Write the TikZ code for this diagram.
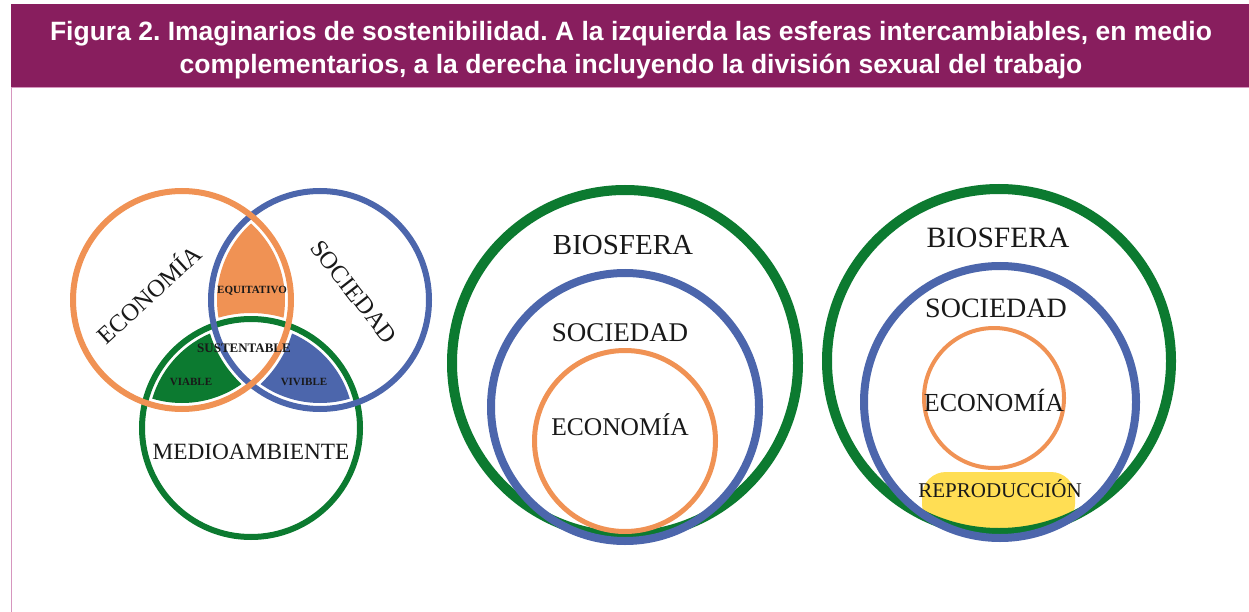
\documentclass[tikz,border=0pt]{standalone}
\usepackage{fontspec}
\setmainfont{Liberation Serif}
\newfontfamily\titlefont{Liberation Sans}
\definecolor{hdr}{RGB}{136,30,94}
\definecolor{pinkline}{RGB}{214,150,190}
\definecolor{cor}{RGB}{240,146,84}
\definecolor{cbl}{RGB}{76,102,172}
\definecolor{cgr}{RGB}{12,122,48}
\definecolor{cye}{RGB}{255,222,84}
\frenchspacing
\begin{document}
\begin{tikzpicture}[x=1pt,y=-1pt,
  lbl/.style={inner sep=0pt,text=black!90},
  small/.style={lbl,font=\bfseries\fontsize{11}{12}\selectfont},
  ttl/.style={font=\titlefont\bfseries\fontsize{26.5}{30}\selectfont,text=white,inner sep=0pt,anchor=base},
  venn/.style={line width=6pt}]
\useasboundingbox (0,0) rectangle (1249,612);
\fill[white] (0,0) rectangle (1249,612);
% header
\fill[hdr] (11,4) rectangle (1249,87);
\draw[pinkline,line width=1.5pt] (11,87.5) -- (1249,87.5);
\draw[pinkline,line width=1.5pt] (11.5,87) -- (11.5,612);
\node[ttl] (title1) at (631,41)
  {Figura 2. Imaginarios de sostenibilidad. A la izquierda las esferas intercambiables, en medio};
\node[ttl] (title2) at (631,74)
  {complementarios, a la derecha incluyendo la división sexual del trabajo};

% ---------- Venn ----------
\coordinate (O) at (182,300);
\coordinate (B) at (320,300);
\coordinate (G) at (251,428);
\begin{scope}[even odd rule]
  \clip (O) circle[radius=103pt];
  \clip (B) circle[radius=103pt];
  \clip (0,0) rectangle (1249,612) (G) circle[radius=115pt];
  \fill[cor] (0,0) rectangle (1249,612);
\end{scope}
\begin{scope}[even odd rule]
  \clip (O) circle[radius=103pt];
  \clip (G) circle[radius=103pt];
  \clip (0,0) rectangle (1249,612) (B) circle[radius=115pt];
  \fill[cgr] (0,0) rectangle (1249,612);
\end{scope}
\begin{scope}[even odd rule]
  \clip (B) circle[radius=103pt];
  \clip (G) circle[radius=103pt];
  \clip (0,0) rectangle (1249,612) (O) circle[radius=115pt];
  \fill[cbl] (0,0) rectangle (1249,612);
\end{scope}
\draw[venn,cgr] (G) circle[radius=109pt];
\draw[venn,cbl] (B) circle[radius=109pt];
\draw[venn,cor] (O) circle[radius=109pt];

\node[lbl,font=\fontsize{24.5}{26}\selectfont,rotate=42.5] (econ1) at (148,293) {ECONOMÍA};
\node[lbl,font=\fontsize{24.5}{26}\selectfont,rotate=-52] (soc1) at (354,292) {SOCIEDAD};
\node[lbl,font=\fontsize{23.3}{25}\selectfont] (medio) at (251,452) {MEDIOAMBIENTE};
\node[small] (equi) at (252,291) {EQUITATIVO};
\node[small,font=\bfseries\fontsize{13}{14}\selectfont] (sust) at (244,348) {SUSTENTABLE};
\node[small] (viab) at (191,382) {VIABLE};
\node[small] (vivi) at (304,382) {VIVIBLE};

% ---------- middle ----------
\draw[cgr,line width=10pt] (625,363) circle[radius=173pt];
\draw[cbl,line width=8pt] (625,407) circle[radius=134pt];
\draw[cor,line width=5pt] (625,441) circle[radius=90.5pt];
\node[lbl,font=\fontsize{29}{31}\selectfont] (bio2) at (623,245) {BIOSFERA};
\node[lbl,font=\fontsize{27}{29}\selectfont] (soc2) at (620,333) {SOCIEDAD};
\node[lbl,font=\fontsize{25.5}{27}\selectfont] (econ2) at (620,425) {ECONOMÍA};

% ---------- right ----------
\fill[cye] (922,472) [rounded corners=24pt] rectangle (1075,528);
\draw[cgr,line width=10pt] (999,361) circle[radius=172pt];
\draw[cbl,line width=8pt] (1000,402) circle[radius=136pt];
\draw[cor,line width=4pt] (994,398) circle[radius=70pt];
\node[lbl,font=\fontsize{29.5}{31}\selectfont] (bio3) at (998,238) {BIOSFERA};
\node[lbl,font=\fontsize{28}{30}\selectfont] (soc3) at (996,308) {SOCIEDAD};
\node[lbl,font=\fontsize{26}{28}\selectfont] (econ3) at (994,400) {ECONOMÍA};
\node[lbl,font=\fontsize{21}{23}\selectfont] (repro) at (1000,489) {REPRODUCCIÓN};
\end{tikzpicture}
\end{document}
